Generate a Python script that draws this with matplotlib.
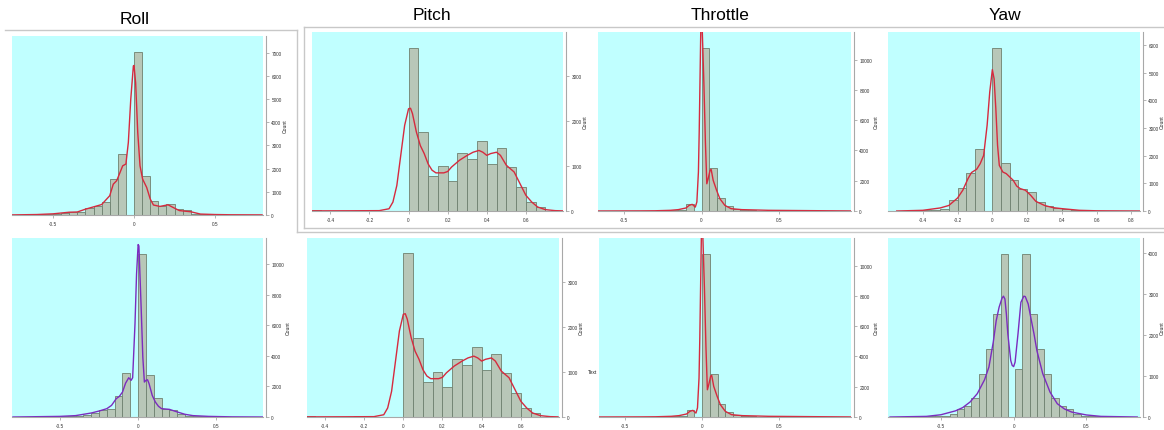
import numpy as np
import matplotlib
matplotlib.use('Agg')
import matplotlib.pyplot as plt
from matplotlib.lines import Line2D

plt.rcParams['font.family'] = ['Liberation Sans', 'DejaVu Sans']
plt.rcParams['axes.unicode_minus'] = False

W, H = 1164, 431
BW = 0.05  # bin width

# ---- data ----
# Roll (top)
roll_top_start = -0.75
roll_top_counts = [20, 20, 25, 30, 40, 50, 70, 130, 130, 310, 400, 550, 1550, 2640, 0,
                   7040, 1700, 600, 400, 480, 250, 220, 60, 40, 30, 25, 20, 15, 15, 10]
roll_top_kde_x = [-0.75, -0.6, -0.5, -0.4, -0.35, -0.3, -0.25, -0.2, -0.15, -0.128, -0.107, -0.086,
                  -0.07, -0.05, -0.035, -0.02, -0.004, 0.0, 0.01, 0.023, 0.037, 0.053, 0.078, 0.1,
                  0.12, 0.16, 0.21, 0.24, 0.28, 0.35, 0.41, 0.5, 0.6, 0.79]
roll_top_kde_y = [5, 20, 50, 120, 130, 250, 350, 450, 830, 1330, 1480, 1840, 2120, 2200, 3130, 5000,
                  6430, 6450, 5700, 3560, 2120, 1550, 1190, 690, 430, 370, 440, 330, 190, 140, 40, 20, 10, 5]

# Pitch (same in both rows)
pitch_start = -0.5
pitch_counts = [15, 10, 0, 0, 0, 15, 15, 0, 10, 5,
                3630, 1760, 780, 1000, 670, 1290, 1160, 1560, 1050, 1400, 980, 535, 200, 80, 10]
pitch_kde_x = [-0.49, -0.3, -0.15, -0.1, -0.08, -0.06, -0.04, -0.02, 0.0, 0.01, 0.02, 0.04, 0.06,
               0.08, 0.1, 0.12, 0.14, 0.18, 0.2, 0.22, 0.26, 0.3, 0.33, 0.36, 0.38, 0.4, 0.42, 0.45,
               0.47, 0.5, 0.54, 0.57, 0.6, 0.63, 0.66, 0.7, 0.75, 0.79]
pitch_kde_y = [3, 5, 8, 50, 200, 570, 1240, 1910, 2280, 2290, 2170, 1760, 1460, 1280, 1050, 910, 850,
               850, 880, 980, 1130, 1240, 1310, 1350, 1310, 1240, 1280, 1310, 1240, 1020, 870, 610,
               350, 200, 90, 30, 8, 3]

# Throttle (same in both rows)
throttle_start = -0.65
throttle_counts = [20, 10, 10, 10, 10, 10, 10, 20, 40, 60, 90, 490, 0,
                   10790, 2840, 860, 330, 100, 60, 40, 30, 20, 20, 20, 40, 10, 50, 20, 10, 10, 20]
throttle_kde_x = [-0.67, -0.4, -0.3, -0.2, -0.15, -0.1, -0.08, -0.06, -0.04, -0.03, -0.02, -0.015,
                  -0.01, -0.005, 0.0, 0.005, 0.015, 0.025, 0.034, 0.042, 0.055, 0.062, 0.075, 0.097,
                  0.118, 0.15, 0.19, 0.26, 0.43, 0.75, 0.96]
throttle_kde_y = [2, 8, 15, 45, 90, 200, 370, 440, 260, 600, 2580, 5200, 8520, 11830, 16000, 11830,
                  8500, 4550, 1800, 2100, 2690, 2750, 2030, 1370, 815, 375, 155, 90, 45, 20, 5]

# Yaw (top)
yaw_top_start = -0.55
yaw_top_counts = [15, 15, 20, 30, 45, 85, 385, 830, 1360, 2240, 0,
                  5890, 1730, 1120, 810, 690, 330, 180, 120, 60, 35, 20, 15, 10, 10, 10, 10, 10]
yaw_top_kde_x = [-0.55, -0.4, -0.3, -0.25, -0.2, -0.17, -0.14, -0.12, -0.09, -0.07, -0.05, -0.03,
                 -0.015, 0.0, 0.01, 0.02, 0.03, 0.04, 0.06, 0.08, 0.1, 0.12, 0.14, 0.16, 0.19, 0.22,
                 0.25, 0.3, 0.35, 0.4, 0.5, 0.6, 0.85]
yaw_top_kde_y = [0, 25, 110, 200, 470, 750, 1170, 1390, 1510, 1710, 2010, 3100, 4300, 5110, 4780,
                 3700, 2370, 1650, 1410, 1350, 1230, 1110, 900, 810, 750, 570, 350, 200, 120, 85, 25, 8, 0]

# Roll (bottom)
roll_bot_start = -0.8
roll_bot_counts = [10, 10, 15, 15, 20, 30, 40, 50, 80, 110, 260, 435, 545, 1370, 2900, 0,
                   10680, 2770, 1260, 500, 480, 220, 90, 60, 40, 30, 20, 15, 10, 10, 10, 5]
roll_bot_kde_x = [-0.8, -0.5, -0.4, -0.3, -0.25, -0.2, -0.17, -0.14, -0.12, -0.1, -0.08, -0.06,
                  -0.045, -0.035, -0.02, -0.01, 0.0, 0.005, 0.01, 0.02, 0.03, 0.04, 0.05, 0.06, 0.07,
                  0.09, 0.11, 0.13, 0.15, 0.2, 0.25, 0.3, 0.35, 0.45, 0.6, 0.8]
roll_bot_kde_y = [0, 40, 90, 260, 390, 545, 760, 1200, 1350, 1630, 2220, 2570, 2400, 2570, 6100, 9370,
                  11290, 11200, 9800, 6970, 3920, 2290, 2400, 2440, 2180, 1420, 980, 700, 545, 500,
                  330, 175, 90, 40, 10, 0]

# Yaw (bottom)
yaw_bot_start = -0.64
yaw_bot_counts = [10, 15, 20, 30, 65, 190, 260, 470, 1050, 1660, 2510, 3970, 0,
                  1160, 3970, 2510, 1660, 1050, 470, 260, 190, 65, 30, 20, 15, 10]
yaw_bot_kde_x = [-0.85, -0.6, -0.5, -0.4, -0.35, -0.3, -0.25, -0.2, -0.17, -0.14, -0.12, -0.1,
                 -0.08, -0.07, -0.06, -0.05, -0.04, -0.02, -0.01, 0.0, 0.01, 0.03, 0.05, 0.07, 0.08,
                 0.1, 0.12, 0.14, 0.16, 0.2, 0.25, 0.3, 0.35, 0.4, 0.5, 0.6, 0.85]
yaw_bot_kde_y = [0, 15, 55, 150, 230, 365, 570, 910, 1220, 1830, 2350, 2680, 2900, 2950, 2880, 2520,
                 2030, 1380, 1260, 1230, 1340, 2030, 2800, 2950, 2940, 2760, 2390, 2030, 1620, 1060,
                 610, 325, 195, 120, 50, 15, 0]

# ---- styling ----
CYAN = '#c0ffff'
BAR = '#b8c7b8'
BAR_EDGE = '#6f806f'
RED = '#d62a3e'
PURPLE = '#7a2cbf'
SPINE = '#a8a8a8'


def px_axes(fig, left, top, right, bottom):
    return fig.add_axes([left / W, 1 - bottom / H, (right - left) / W, (bottom - top) / H])


def panel(fig, box, start, counts, kx, ky, color, xlim, ylim, xticks, yticks):
    ax = px_axes(fig, *box)
    ax.set_facecolor(CYAN)
    edges = [start + BW * i for i in range(len(counts))]
    ax.bar(edges, counts, width=BW, align='edge', color=BAR, edgecolor=BAR_EDGE, linewidth=0.6)
    ax.plot(kx, ky, color=color, lw=1.0)
    ax.set_xlim(*xlim)
    ax.set_ylim(*ylim)
    ax.yaxis.tick_right()
    ax.yaxis.set_label_position('right')
    ax.set_ylabel('Count', fontsize=3.6, labelpad=1, color='#222222')
    ax.set_xticks(xticks)
    ax.set_xticklabels(['%g' % t for t in xticks])
    ax.set_yticks(yticks)
    ax.set_yticklabels(['%g' % t for t in yticks])
    ax.tick_params(labelsize=3.4, length=2.5, width=0.6, color=SPINE, labelcolor='#333333', pad=1.5)
    for s in ('top', 'left'):
        ax.spines[s].set_visible(False)
    for s in ('right', 'bottom'):
        ax.spines[s].set_color(SPINE)
        ax.spines[s].set_linewidth(0.8)
    ax.spines['right'].set_position(('outward', 2))
    return ax


fig = plt.figure(figsize=(W / 100, H / 100), dpi=100)

roll_ticks = [-0.5, 0, 0.5]
pitch_ticks = [-0.4, -0.2, 0, 0.2, 0.4, 0.6]
yaw_ticks = [-0.4, -0.2, 0, 0.2, 0.4, 0.6, 0.8]

# top row
panel(fig, (12, 37, 263, 216), roll_top_start, roll_top_counts, roll_top_kde_x, roll_top_kde_y, RED,
      (-0.753, 0.796), (0, 7720), roll_ticks, list(range(0, 7001, 1000)))
panel(fig, (312, 33, 563, 212), pitch_start, pitch_counts, pitch_kde_x, pitch_kde_y, RED,
      (-0.494, 0.79), (0, 3990), pitch_ticks, [0, 1000, 2000, 3000])
panel(fig, (598, 33, 851, 212), throttle_start, throttle_counts, throttle_kde_x, throttle_kde_y, RED,
      (-0.667, 0.963), (0, 11830), roll_ticks, list(range(0, 10001, 2000)))
panel(fig, (888, 33, 1140, 212), yaw_top_start, yaw_top_counts, yaw_top_kde_x, yaw_top_kde_y, RED,
      (-0.60, 0.849), (0, 6470), yaw_ticks, list(range(0, 6001, 1000)))

# bottom row
panel(fig, (12, 239, 263, 418), roll_bot_start, roll_bot_counts, roll_bot_kde_x, roll_bot_kde_y, PURPLE,
      (-0.806, 0.798), (0, 11720), roll_ticks, list(range(0, 10001, 2000)))
panel(fig, (307, 239, 559, 418), pitch_start, pitch_counts, pitch_kde_x, pitch_kde_y, RED,
      (-0.492, 0.795), (0, 3970), pitch_ticks, [0, 1000, 2000, 3000])
panel(fig, (599, 239, 851, 418), throttle_start, throttle_counts, throttle_kde_x, throttle_kde_y, RED,
      (-0.667, 0.963), (0, 11830), roll_ticks, list(range(0, 10001, 2000)))
panel(fig, (888, 239, 1140, 418), yaw_bot_start, yaw_bot_counts, yaw_bot_kde_x, yaw_bot_kde_y, PURPLE,
      (-0.864, 0.869), (0, 4370), roll_ticks, list(range(0, 4001, 1000)))

# titles
for name, x, y in [('Roll', 135, 20), ('Pitch', 432, 15), ('Throttle', 720, 15), ('Yaw', 1005, 15)]:
    fig.text(x / W, 1 - y / H, name, ha='center', va='center', fontsize=12.5, color='black')

fig.text(588 / W, 1 - 373 / H, 'Text', ha='left', va='center', fontsize=3.6, color='#222222')


# frame lines around the panels
def hline(y, x0, x1):
    fig.add_artist(Line2D([x0 / W, x1 / W], [1 - y / H, 1 - y / H], color='#c8c8c8', lw=1,
                          transform=fig.transFigure))


def vline(x, y0, y1):
    fig.add_artist(Line2D([x / W, x / W], [1 - y0 / H, 1 - y1 / H], color='#c8c8c8', lw=1,
                          transform=fig.transFigure))


hline(31, 5, 297)
vline(297, 31, 233)
hline(233, 297, W)
vline(304, 28, 229)
hline(28, 304, W)
hline(229, 304, W)

fig.savefig('out.png', dpi=100)
